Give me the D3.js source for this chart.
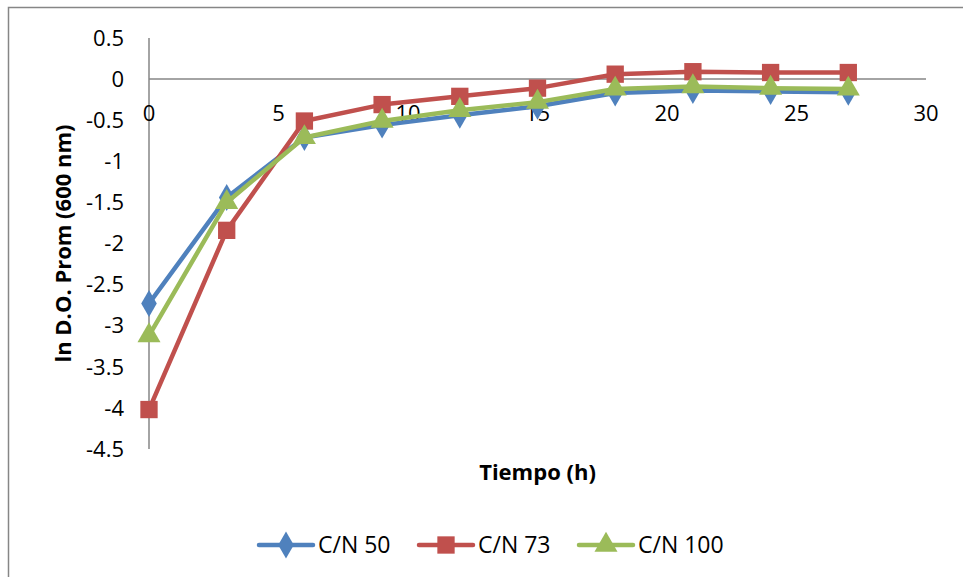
<!DOCTYPE html>
<html lang="es">
<head>
    <meta charset="UTF-8">
    <title>ln D.O. Prom</title>
    <script src="https://d3js.org/d3.v7.min.js"></script>
    <style>
        body {
            margin: 0;
            padding: 0;
            background: #fff;
        }
        svg text {
            font-family: "Open Sans", Lato, sans-serif;
            fill: #000;
        }
    </style>
</head>
<body>
    <div id="chart"></div>

    <script>
        const width = 963;
        const height = 577;

        // datos
        const tiempo = [0, 3, 6, 9, 12, 15, 18, 21, 24, 27];
        const cn50 = [-2.73, -1.44, -0.71, -0.56, -0.44, -0.33, -0.17, -0.14, -0.15, -0.16];
        const cn73 = [-4.02, -1.84, -0.51, -0.31, -0.21, -0.11, 0.06, 0.09, 0.08, 0.08];
        const cn100 = [-3.12, -1.50, -0.71, -0.51, -0.38, -0.28, -0.12, -0.09, -0.11, -0.12];
        const xTicks = [0, 5, 10, 15, 20, 25, 30];
        const yTicks = [0.5, 0, -0.5, -1, -1.5, -2, -2.5, -3, -3.5, -4, -4.5];

        const series = [
            { name: "C/N 50", values: cn50, color: "#4F81BD", symbol: d3.symbolDiamond, size: 210 },
            { name: "C/N 73", values: cn73, color: "#C0504D", symbol: d3.symbolSquare, size: 300 },
            { name: "C/N 100", values: cn100, color: "#9BBB59", symbol: d3.symbolTriangle, size: 230 }
        ];

        const svg = d3.select("#chart")
            .append("svg")
            .attr("width", width)
            .attr("height", height);

        // marco del gráfico
        svg.append("rect")
            .attr("x", 8.5).attr("y", 7.5)
            .attr("width", width).attr("height", height)
            .attr("fill", "none")
            .attr("stroke", "#868686")
            .attr("stroke-width", 1.5);

        const x = d3.scaleLinear().domain([0, 30]).range([149, 926]);
        const y = d3.scaleLinear().domain([-4.5, 0.5]).range([449, 38]);

        const axisColor = "#868686";

        // eje Y
        svg.append("line")
            .attr("x1", x(0)).attr("x2", x(0))
            .attr("y1", y(0.5)).attr("y2", y(-4.5))
            .attr("stroke", axisColor).attr("stroke-width", 1.5);

        svg.selectAll(".ylabel")
            .data(yTicks)
            .enter().append("text")
            .attr("class", "ylabel")
            .attr("x", 124)
            .attr("y", d => y(d))
            .attr("dy", "0.35em")
            .attr("text-anchor", "end")
            .style("font-size", "22px")
            .text(d => d);

        // eje X (cruza en y = 0)
        svg.append("line")
            .attr("x1", x(0)).attr("x2", x(30))
            .attr("y1", y(0)).attr("y2", y(0))
            .attr("stroke", axisColor).attr("stroke-width", 1.5);

        svg.selectAll(".xlabel")
            .data(xTicks)
            .enter().append("text")
            .attr("class", "xlabel")
            .attr("x", d => x(d))
            .attr("y", 113)
            .attr("dy", "0.35em")
            .attr("text-anchor", "middle")
            .style("font-size", "22px")
            .text(d => d);

        // títulos de ejes
        svg.append("text")
            .attr("x", (x(0) + x(30)) / 2)
            .attr("y", 472)
            .attr("dy", "0.35em")
            .attr("text-anchor", "middle")
            .style("font-size", "22px")
            .style("font-weight", "bold")
            .text("Tiempo (h)");

        svg.append("text")
            .attr("transform", `translate(63,${(y(0.5) + y(-4.5)) / 2}) rotate(-90)`)
            .attr("dy", "0.35em")
            .attr("text-anchor", "middle")
            .style("font-size", "22px")
            .style("font-weight", "bold")
            .text("ln D.O. Prom (600 nm)");

        // series
        const line = d3.line()
            .x((d, i) => x(tiempo[i]))
            .y(d => y(d));

        series.forEach(s => {
            svg.append("path")
                .datum(s.values)
                .attr("d", line)
                .attr("fill", "none")
                .attr("stroke", s.color)
                .attr("stroke-width", 4.5)
                .attr("stroke-linejoin", "round")
                .attr("stroke-linecap", "round");

            svg.selectAll(null)
                .data(s.values)
                .enter().append("path")
                .attr("d", d3.symbol().type(s.symbol).size(s.size))
                .attr("transform", (d, i) => `translate(${x(tiempo[i])},${y(d)})`)
                .attr("fill", s.color);
        });

        // leyenda
        const legendX = [259, 419, 579];
        const legend = svg.selectAll(".legend")
            .data(series)
            .enter().append("g")
            .attr("class", "legend")
            .attr("transform", (d, i) => `translate(${legendX[i]},545)`);

        legend.append("line")
            .attr("x1", 0).attr("x2", 54)
            .attr("stroke", d => d.color)
            .attr("stroke-width", 4.5)
            .attr("stroke-linecap", "round");

        legend.append("path")
            .attr("d", d => d3.symbol().type(d.symbol).size(d.size)())
            .attr("transform", "translate(27,0)")
            .attr("fill", d => d.color);

        legend.append("text")
            .attr("x", 59)
            .attr("dy", "0.35em")
            .style("font-size", "23px")
            .text(d => d.name);
    </script>
</body>
</html>
